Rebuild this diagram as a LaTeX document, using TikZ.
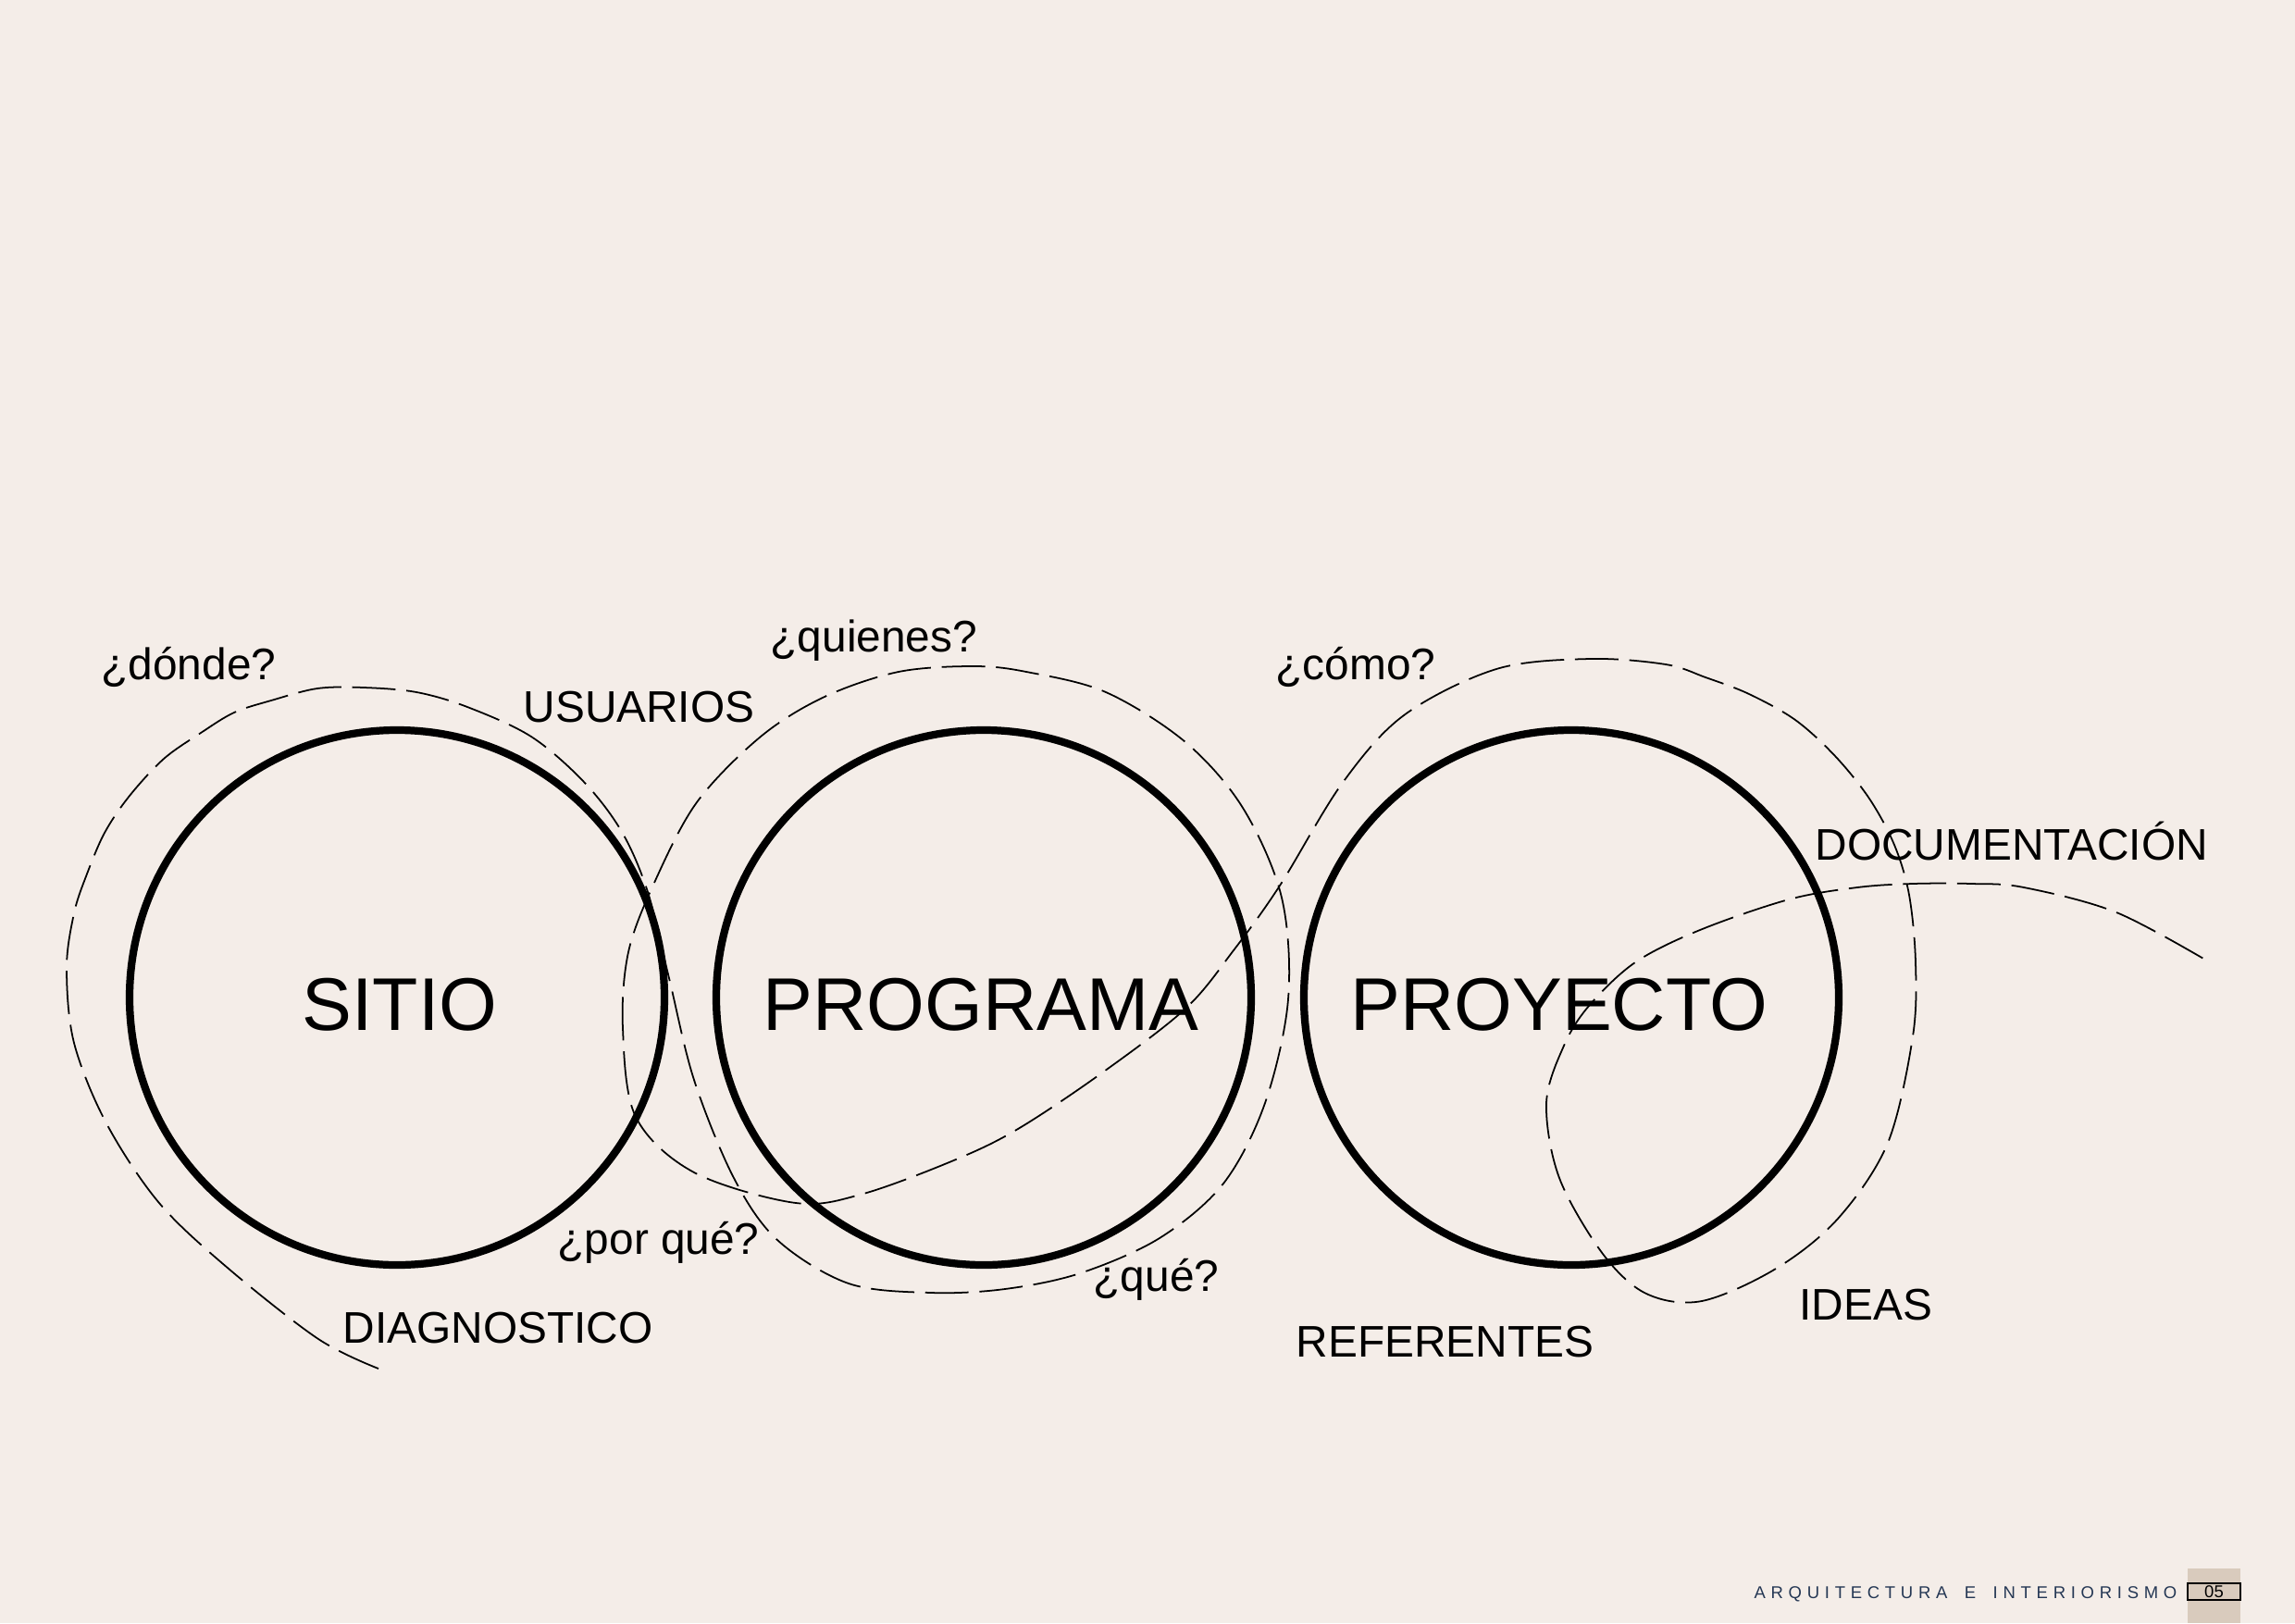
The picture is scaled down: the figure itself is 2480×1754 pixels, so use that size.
\documentclass[tikz,border=0pt]{standalone}
\usepackage{fontspec}
\setmainfont{Liberation Sans}
\newfontfamily\footfont[LetterSpace=31,WordSpace=1.7]{Liberation Sans}
\usetikzlibrary{calc}
\definecolor{paper}{RGB}{244,237,232}
\definecolor{tab}{RGB}{217,203,189}
\definecolor{navy}{RGB}{36,55,84}
\tikzset{ring/.style={line width=2.8pt}}
\tikzset{trail/.style={line width=0.6pt,dash pattern=on 16pt off 4pt}}
\tikzset{big label/.style={inner sep=0,anchor=base,font=\fontsize{27.5}{33}\selectfont}}
\tikzset{set label/.style={inner sep=0,anchor=base west,font=\fontsize{16.3}{19}\selectfont}}

\begin{document}
\begin{tikzpicture}[x=0.011976cm,y=-0.011976cm]

            \def \circleRadius{289}
            \def \circleSitioPoint{(429,1078)}
            \def \circleProgramaPoint{(1063,1078)}
            \def \circleProyectoPoint{(1698,1078)}

            \fill[paper] (0,0) rectangle (2480,1754);
            \useasboundingbox (0,0) rectangle (2480,1754);

            \draw[ring] \circleSitioPoint    circle (\circleRadius);
            \draw[ring] \circleProgramaPoint circle (\circleRadius);
            \draw[ring] \circleProyectoPoint circle (\circleRadius);
            \node[big label] (sitio)    at (432,1113)  {SITIO};
            \node[big label] (programa) at (1060,1113) {PROGRAMA};
            \node[big label] (proyecto) at (1685,1113) {PROYECTO};

            % one dashed line looping round the three circles
            \draw[trail] plot[smooth,tension=0.55] coordinates {
              (409,1479) (344,1447) (247,1371) (172,1300) (115,1214) (80,1127)
              (72,1046) (80,987) (93,947) (113,900) (140,860) (177,820)
              (217,792) (253,770) (293,757) (343,744) (393,743) (450,748)
              (505,764) (574,796) (631,845) (672,899) (700,964)
              (723,1057) (750,1167) (793,1273) (840,1340) (917,1387) (1006,1397)
              (1086,1393) (1167,1376) (1253,1338) (1322,1279) (1367,1192) (1392,1080)
              (1385,970) (1343,873) (1281,802) (1195,748) (1109,726) (1052,720)
              (971,726) (891,753) (822,796) (753,867) (707,954) (679,1029)
              (673,1111) (687,1207) (750,1267) (860,1300) (933,1290) (1033,1253)
              (1100,1220) (1190,1160) (1281,1090) (1333,1027) (1383,957) (1450,847)
              (1517,773) (1617,723) (1718,712) (1800,718) (1843,732) (1890,750)
              (1940,778) (1983,817) (2020,863) (2047,913) (2063,967) (2070,1040)
              (2067,1120) (2040,1235) (1986,1317) (1919,1371)
              (1839,1406) (1779,1398) (1732,1355) (1685,1273) (1671,1192) (1690,1130)
              (1717,1087) (1767,1040) (1837,1005) (1933,972) (2007,959) (2067,955)
              (2130,955) (2187,959) (2287,986) (2388,1040)};

            \node[set label] (donde)         at (109,734)   {¿dónde?};
            \node[set label] (usuarios)      at (565,780)   {USUARIOS};
            \node[set label] (quienes)       at (832,704)   {¿quienes?};
            \node[set label] (como)          at (1378,734)  {¿cómo?};
            \node[set label] (documentacion) at (1961,929)  {DOCUMENTACIÓN};
            \node[set label] (porque)        at (602,1355)  {¿por qué?};
            \node[set label] (que)           at (1181,1395) {¿qué?};
            \node[set label] (ideas)         at (1944,1426) {IDEAS};
            \node[set label] (diagnostico)   at (370,1451)  {DIAGNOSTICO};
            \node[set label] (referentes)    at (1400,1466) {REFERENTES};

            % page footer
            \fill[tab] (2364,1695) rectangle (2421,1754);
            \draw[line width=0.6pt,fill=tab] (2364,1711) rectangle (2421,1729);
            \node[inner sep=0,font=\fontsize{6.3}{7}\selectfont] (page) at (2392.5,1720) {05};
            \node[inner sep=0,anchor=base west,text=navy,font=\footfont\fontsize{6.3}{7}\selectfont]
              (footer) at (1895,1727) {ARQUITECTURA E INTERIORISMO};

\end{tikzpicture}
\end{document}
